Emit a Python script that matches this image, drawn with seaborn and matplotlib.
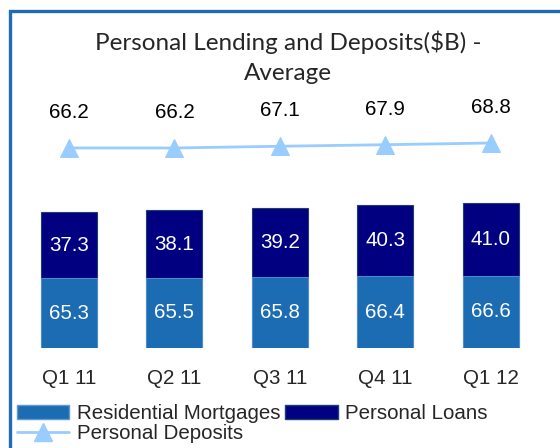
import numpy as np
import pandas as pd
import matplotlib
matplotlib.use("Agg")
import matplotlib.pyplot as plt
import seaborn as sns
from matplotlib.patches import Rectangle
from matplotlib.lines import Line2D
from matplotlib.patches import Patch

# ---------------------------------
# Data
# ---------------------------------
quarters = ["Q1 11", "Q2 11", "Q3 11", "Q4 11", "Q1 12"]
mortgages = [65.3, 65.5, 65.8, 66.4, 66.6]
loans = [37.3, 38.1, 39.2, 40.3, 41.0]
deposits = [66.2, 66.2, 67.1, 67.9, 68.8]

df = pd.DataFrame({"quarter": quarters, "mortgages": mortgages,
                   "loans": loans, "deposits": deposits})
df["total"] = df["mortgages"] + df["loans"]

C_MORT = "#1B6CB2"
C_LOAN = "#000080"
C_DEP = "#99CCFF"
C_BORDER = "#1F6CB5"
FS = 14.8

sns.set_style("white")
plt.rcParams["font.family"] = ["Liberation Sans", "DejaVu Sans"]

W, H = 560, 448
fig = plt.figure(figsize=(W / 100, H / 100), dpi=100)

# axes placed in pixel units
left, right, bottom, top = 16.3, 543.3, 348, 100
ax = fig.add_axes([left / W, 1 - bottom / H, (right - left) / W, (bottom - top) / H])

# stacked bars: total first, mortgages drawn over it
sns.barplot(data=df, x="quarter", y="total", color=C_LOAN, width=0.53,
            edgecolor="#1F3F6F", linewidth=0.8, saturation=1, ax=ax)
sns.barplot(data=df, x="quarter", y="mortgages", color=C_MORT, width=0.53,
            edgecolor="#5A9BD5", linewidth=0.6, saturation=1, ax=ax)
ax.set_ylim(25.8, 165.9)
ax.set_xlim(-0.5, 4.5)

x = np.arange(len(quarters))
for i in range(len(quarters)):
    ax.text(x[i], 25.8 + (mortgages[i] - 25.8) / 2, f"{mortgages[i]:.1f}",
            ha="center", va="center", color="white", fontsize=FS)
    ax.text(x[i], mortgages[i] + loans[i] / 2, f"{loans[i]:.1f}",
            ha="center", va="center", color="white", fontsize=FS)

ax.set_xlabel("")
ax.set_ylabel("")
ax.set_yticks([])
ax.tick_params(axis="x", length=0, pad=15, labelsize=FS)
sns.despine(ax=ax, left=True, bottom=True)

# deposits line on a twin axis
ax2 = ax.twinx()
sns.lineplot(x=x, y=deposits, ax=ax2, color=C_DEP, linewidth=2,
             marker="^", markersize=12.5, markeredgecolor=C_DEP)
ax2.set_ylim(-38.0, 91.2)
ax2.set_yticks([])
ax2.set_ylabel("")
sns.despine(ax=ax2, left=True, bottom=True, right=True)
for i in range(len(quarters)):
    ax2.annotate(f"{deposits[i]:.1f}", (x[i], deposits[i]), xytext=(0, 25.5),
                 textcoords="offset points", ha="center", va="center",
                 fontsize=FS, color="black")

# title
title_font = ["Lato", "DejaVu Sans"]
fig.text(288 / W, 1 - 42 / H, "Personal Lending and Deposits($B) -",
         ha="center", va="center", fontsize=17.5, family=title_font)
fig.text(288 / W, 1 - 74 / H, "Average",
         ha="center", va="center", fontsize=17.5, family=title_font)

# legend
handles = [Patch(facecolor=C_MORT, edgecolor="#5A9BD5"),
           Line2D([0], [0], color=C_DEP, lw=2, marker="^", markersize=12.5),
           Patch(facecolor=C_LOAN, edgecolor="#1F3F6F")]
labels = ["Residential Mortgages", "Personal Deposits", "Personal Loans"]
fig.legend(handles, labels, ncol=2, loc="upper left",
           bbox_to_anchor=(17 / W, 1 - 404 / H), frameon=False, fontsize=FS,
           handlelength=2.55, handletextpad=0.35, columnspacing=0.25,
           labelspacing=0.05, borderpad=0, borderaxespad=0)

# blue frame around the chart (right and bottom edges fall outside)
fig.patches.append(Rectangle((10 / W, -0.1), 1.1, 1 - 11 / H + 0.1,
                             transform=fig.transFigure, fill=False,
                             edgecolor=C_BORDER, linewidth=2.4, clip_on=False))

fig.savefig("out.png", dpi=100)
